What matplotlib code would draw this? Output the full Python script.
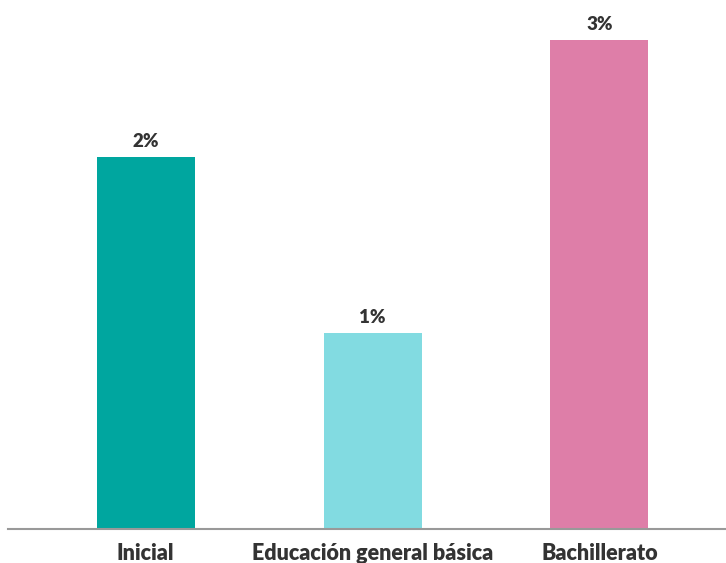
import matplotlib.pyplot as plt

# niveles educativos y porcentajes
categorias = ['Inicial', 'Educación general básica', 'Bachillerato']
valores = [1.9, 1.0, 2.5]
etiquetas = ['2%', '1%', '3%']
colores = ['#00A69F', '#82DBE1', '#DE7EA8']

plt.rcParams['font.family'] = ['Lato', 'DejaVu Sans']

fig = plt.figure(figsize=(7.26, 5.63), dpi=100)
ax = fig.add_axes([8 / 726, 34 / 563, 718 / 726, 529 / 563])

x = range(len(categorias))
bars = ax.bar(x, valores, width=0.432, color=colores)

for b, txt in zip(bars, etiquetas):
    ax.annotate(txt, (b.get_x() + b.get_width() / 2, b.get_height()),
                xytext=(0, 5), textcoords='offset points', ha='center', va='bottom',
                fontsize=13.5, fontweight='heavy', color='#333333')

ax.set_xlim(-0.607, 2.558)
ax.set_ylim(0, 2.705)
ax.set_xticks(list(x))
ax.set_xticklabels(categorias, fontsize=15.5, fontweight='heavy', color='#333333')
ax.tick_params(axis='x', length=0, pad=10)
ax.set_yticks([])

for s in ['top', 'right', 'left']:
    ax.spines[s].set_visible(False)
ax.spines['bottom'].set_color('#999999')
ax.spines['bottom'].set_linewidth(1.5)

fig.savefig('out.png', dpi=100)
